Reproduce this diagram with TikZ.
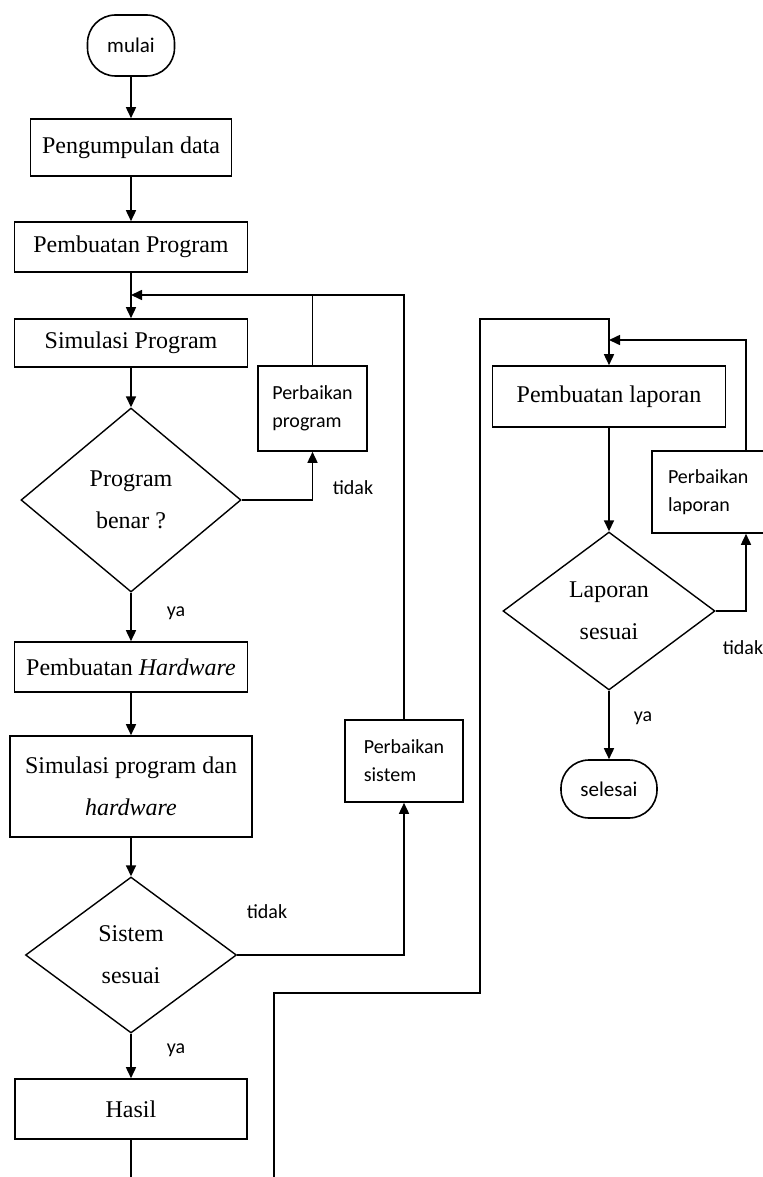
\documentclass[tikz,border=0pt]{standalone}
\usepackage{fontspec}
\setmainfont{Liberation Serif}
\newfontfamily\calfont{Carlito}
\usetikzlibrary{arrows.meta,shapes.geometric}

\begin{document}
\begin{tikzpicture}[x=0.5pt,y=-0.5pt,line width=0.8pt,>={Triangle[length=5.5pt,width=5pt]},
  box/.style={draw,rectangle,inner sep=0pt,font=\fontsize{12}{21}\selectfont,align=center},
  term/.style={draw,rectangle,rounded corners=14pt,inner sep=0pt,font=\calfont\fontsize{10.5}{13}\selectfont},
  cond/.style={draw,diamond,inner sep=0pt,line width=0.7pt,font=\fontsize{12}{21}\selectfont,align=center},
  fixbox/.style={draw,rectangle,inner xsep=7pt,inner ysep=0pt,font=\calfont\fontsize{10}{14}\selectfont,align=left},
  lbl/.style={font=\calfont\fontsize{10}{12}\selectfont,inner sep=0pt}]
\useasboundingbox (0,0) rectangle (763,1177);
\node[term,minimum width=43.5pt,minimum height=30.5pt] (mulai) at (131,45.5) {mulai};
\node[box,minimum width=100.5pt,minimum height=28.5pt] (kumpul) at (131,147.5) {Pengumpulan data};
\node[box,minimum width=116.5pt,minimum height=25pt] (progbuat) at (131,247) {Pembuatan Program};
\node[box,minimum width=116.5pt,minimum height=24pt] (progsim) at (131,343) {Simulasi Program};
\node[cond,minimum width=110pt,minimum height=92pt] (progcek) at (131,500) {Program\\benar ?};
\node[fixbox,minimum width=54.5pt,minimum height=42.5pt] (progfix) at (312.5,408.5) {Perbaikan\\program};
\node[box,minimum width=116.5pt,minimum height=25pt] (hwbuat) at (131,667) {Pembuatan \textit{Hardware}};
\node[box,minimum width=121pt,minimum height=50.5pt] (hwsim) at (131,786.5) {Simulasi program dan\\\textit{hardware}};
\node[cond,minimum width=105.5pt,minimum height=78pt] (syscek) at (131,955) {Sistem\\sesuai};
\node[fixbox,minimum width=59pt,minimum height=41pt] (sysfix) at (404,761) {Perbaikan\\sistem};
\node[box,minimum width=116pt,minimum height=30pt] (hasil) at (131,1109) {Hasil};
\node[box,minimum width=116.5pt,minimum height=30.5pt] (lapbuat) at (609,396.5) {Pembuatan laporan};
\node[fixbox,minimum width=94pt,minimum height=41pt,text width=78pt] (lapfix) at (746,492) {Perbaikan\\laporan};
\node[cond,minimum width=106pt,minimum height=79pt] (lapcek) at (609,611) {Laporan\\sesuai};
\node[term,minimum width=48pt,minimum height=29pt] (selesai) at (609,789) {selesai};
\node[lbl] (progya) at (176,613) {ya}; \node[lbl] (progtidak) at (353,488) {tidak};
\node[lbl] (systidak) at (267,912) {tidak}; \node[lbl] (sysya) at (176,1050) {ya};
\node[lbl,anchor=west] (laptidak) at (722,648) {tidak}; \node[lbl] (lapya) at (643,718) {ya};
\coordinate (progjoin) at (131,295); \coordinate (lapjoin) at (609,340);
\coordinate (hasilend) at (131,1177); \coordinate (pagestart) at (274,1177);
\coordinate (pagebend) at (480,993); \coordinate (lapin) at (609,319);
\draw[->] (mulai) -- (kumpul); \draw[->] (kumpul) -- (progbuat); \draw[->] (progbuat) -- (progsim);
\draw[->] (sysfix) |- (progjoin); \draw (progfix) -- (progfix |- progjoin);
\draw[->] (progsim) -- (progcek); \draw[->] (progcek) -| (progfix);
\draw[->] (progcek) -- (hwbuat); \draw[->] (hwbuat) -- (hwsim); \draw[->] (hwsim) -- (syscek);
\draw[->] (syscek) -| (sysfix); \draw[->] (syscek) -- (hasil); \draw (hasil) -- (hasilend);
\draw[->] (pagestart) |- (pagebend) |- (lapin) -- (lapbuat);
\draw[->] (lapfix) |- (lapjoin);
\draw[->] (lapbuat) -- (lapcek); \draw[->] (lapcek) -| (lapfix); \draw[->] (lapcek) -- (selesai);
\end{tikzpicture}
\end{document}
